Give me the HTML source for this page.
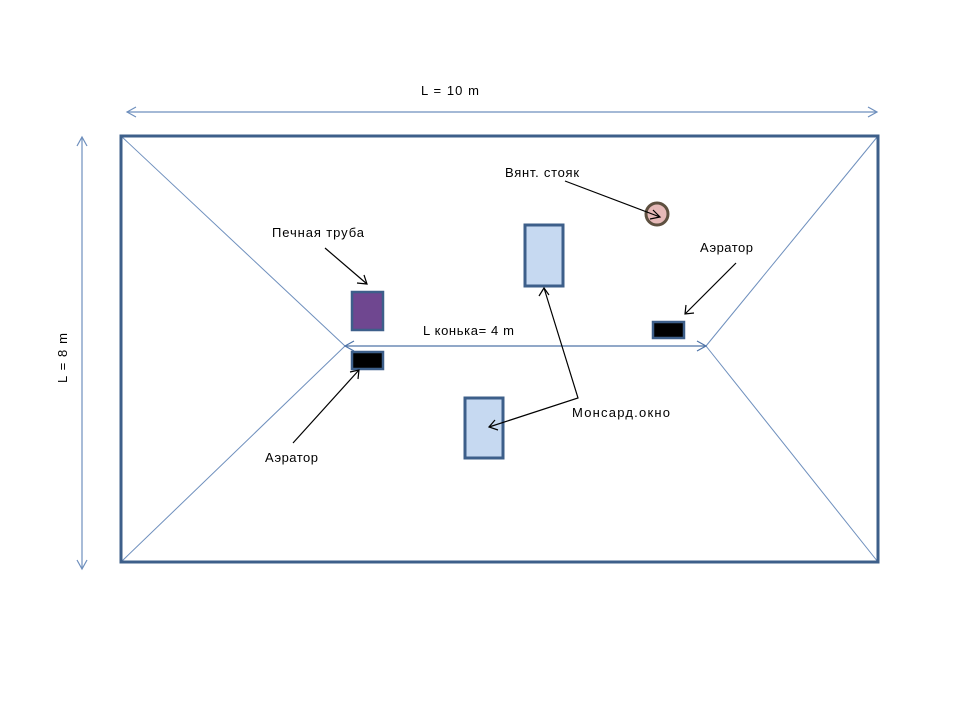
<!DOCTYPE html>
<html>
<head>
<meta charset="utf-8">
<style>
  html, body { margin: 0; padding: 0; background: #ffffff; }
  body { width: 960px; height: 720px; overflow: hidden; }
  svg { display: block; }
  text { font-family: "Liberation Sans", "DejaVu Sans", sans-serif; font-size: 13px; fill: #000; }
</style>
</head>
<body>
<svg width="960" height="720" viewBox="0 0 960 720" xmlns="http://www.w3.org/2000/svg">
  <!-- dimension arrows -->
  <g stroke="#6e8fbd" stroke-width="1.2" fill="none">
    <line x1="127" y1="112" x2="877" y2="112"/>
    <polyline points="136,107 127,112 136,117"/>
    <polyline points="868,107 877,112 868,117"/>
    <line x1="82" y1="137" x2="82" y2="569"/>
    <polyline points="77,146 82,137 87,146"/>
    <polyline points="77,560 82,569 87,560"/>
  </g>

  <!-- hip lines -->
  <g stroke="#6e8fbd" stroke-width="1" fill="none">
    <line x1="121" y1="136" x2="345" y2="346"/>
    <line x1="121" y1="562" x2="345" y2="346"/>
    <line x1="878" y1="136" x2="706" y2="346"/>
    <line x1="878" y1="562" x2="706" y2="346"/>
  </g>

  <!-- ridge -->
  <g stroke="#4f74a8" stroke-width="1.2" fill="none">
    <line x1="345" y1="346" x2="706" y2="346"/>
    <polyline points="354,341 345,346 354,351"/>
    <polyline points="697,341 706,346 697,351"/>
  </g>

  <!-- outer rectangle -->
  <rect x="121" y="136" width="757" height="426" fill="none" stroke="#3d5f8a" stroke-width="3"/>

  <!-- chimney -->
  <rect x="352" y="292" width="31" height="38" fill="#6f4790" stroke="#3d5f8a" stroke-width="2.5"/>
  <!-- aerators -->
  <rect x="352" y="352" width="31" height="17" fill="#000" stroke="#3d5f8a" stroke-width="2.5"/>
  <rect x="653" y="322" width="31" height="16" fill="#000" stroke="#3d5f8a" stroke-width="2.5"/>
  <!-- windows -->
  <rect x="525" y="225" width="38" height="61" fill="#c6d9f1" stroke="#3d5f8a" stroke-width="3"/>
  <rect x="465" y="398" width="38" height="60" fill="#c6d9f1" stroke="#3d5f8a" stroke-width="3"/>
  <!-- vent stack -->
  <circle cx="657" cy="214" r="11" fill="#e6b9b8" stroke="#5e5040" stroke-width="3"/>

  <!-- black label arrows -->
  <g stroke="#000" stroke-width="1.2" fill="none">
    <line x1="325" y1="248" x2="367" y2="284"/>
    <polyline points="357,283 367,284 364,275"/>

    <line x1="565" y1="181" x2="660" y2="217"/>
    <polyline points="650,219 660,217 653,210"/>

    <line x1="736" y1="263" x2="685" y2="314"/>
    <polyline points="686,305 685,314 694,313"/>

    <line x1="293" y1="443" x2="359" y2="370"/>
    <polyline points="350,372 359,370 358,379"/>

    <polyline points="544,288 578,398 489,427"/>
    <polyline points="539,296 544,288 549,295"/>
    <polyline points="495,420 489,427 498,430"/>
  </g>

  <!-- labels -->
  <text x="421" y="95" textLength="58" lengthAdjust="spacing">L = 10 m</text>
  <text x="0" y="0" transform="translate(67,383) rotate(-90)" textLength="50" lengthAdjust="spacing">L = 8 m</text>
  <text x="505" y="177" textLength="74" lengthAdjust="spacing">Вянт. стояк</text>
  <text x="272" y="237" textLength="92" lengthAdjust="spacing">Печная труба</text>
  <text x="700" y="252" textLength="53" lengthAdjust="spacing">Аэратор</text>
  <text x="423" y="335" textLength="91" lengthAdjust="spacing">L конька= 4 m</text>
  <text x="265" y="462" textLength="53" lengthAdjust="spacing">Аэратор</text>
  <text x="572" y="417" textLength="98" lengthAdjust="spacing">Монсард.окно</text>
</svg>
</body>
</html>
